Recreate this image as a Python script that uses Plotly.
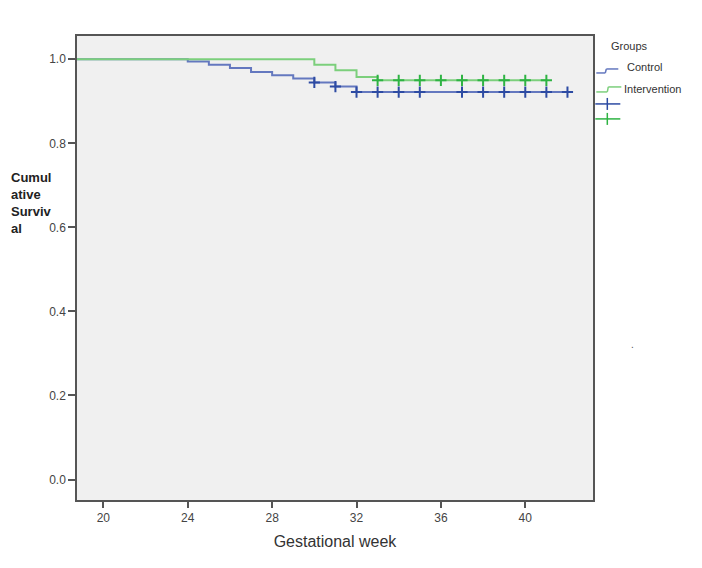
import plotly.graph_objects as go

# ---- data ----
control_times = [0, 24, 25, 26, 27, 28, 29, 30, 31, 32, 42]
control_surv = [1.0, 0.995, 0.987, 0.979, 0.970, 0.962, 0.954, 0.945, 0.935, 0.922, 0.922]
control_censor_weeks = [30, 31, 32, 33, 34, 35, 37, 38, 39, 40, 41, 42]

interv_times = [0, 30, 31, 32, 33, 41]
interv_surv = [1.0, 0.987, 0.974, 0.958, 0.950, 0.950]
interv_censor_weeks = [33, 34, 35, 36, 37, 38, 39, 40, 41]

x_ticks = [20, 24, 28, 32, 36, 40]
y_ticks = [0.0, 0.2, 0.4, 0.6, 0.8, 1.0]
y_tick_labels = ["0.0", "0.2", "0.4", "0.6", "0.8", "1.0"]


def surv_at(times, surv, t):
    s = surv[0]
    for ti, si in zip(times, surv):
        if ti <= t:
            s = si
    return s


BLUE_LINE = "#6478bf"
BLUE_MARK = "#2d4ba3"
GREEN_LINE = "#7ccf7c"
GREEN_MARK = "#2eb343"

fig = go.Figure()
fig.add_trace(go.Scatter(x=control_times, y=control_surv, mode="lines",
                         line=dict(shape="hv", color=BLUE_LINE, width=2),
                         showlegend=False, hoverinfo="skip"))
fig.add_trace(go.Scatter(x=interv_times, y=interv_surv, mode="lines",
                         line=dict(shape="hv", color=GREEN_LINE, width=2),
                         showlegend=False, hoverinfo="skip"))
fig.add_trace(go.Scatter(x=control_censor_weeks,
                         y=[surv_at(control_times, control_surv, t) for t in control_censor_weeks],
                         mode="markers",
                         marker=dict(symbol="cross-thin", size=8, line=dict(color=BLUE_MARK, width=2)),
                         showlegend=False))
fig.add_trace(go.Scatter(x=interv_censor_weeks,
                         y=[surv_at(interv_times, interv_surv, t) for t in interv_censor_weeks],
                         mode="markers",
                         marker=dict(symbol="cross-thin", size=8, line=dict(color=GREEN_MARK, width=2)),
                         showlegend=False))

# page offset (default body margin) and target plot area in window pixels
OFF = 8
L, R, T, B = 77, 592.7, 36, 500.5
W, H = 702 - 2 * OFF, 568 - 2 * OFF
PW, PH = R - L, B - T


def px(x):
    return (x - L) / PW


def py(y):
    return (B - y) / PH


shapes = []
annotations = []

FONT = "Liberation Sans"
# legend
annotations.append(dict(text="Groups", x=px(609), y=py(46), xref="paper", yref="paper",
                        xanchor="left", yanchor="middle", showarrow=False,
                        font=dict(size=11, color="#333", family=FONT)))
for (x0, y0, x1, y1) in [(596, 73, 605, 73), (605, 73, 606, 69), (606, 69, 618, 69)]:
    shapes.append(dict(type="line", xref="paper", yref="paper", x0=px(x0), y0=py(y0),
                       x1=px(x1), y1=py(y1), line=dict(color=BLUE_LINE, width=1.5)))
annotations.append(dict(text="Control", x=px(625), y=py(67), xref="paper", yref="paper",
                        xanchor="left", yanchor="middle", showarrow=False,
                        font=dict(size=11, color="#333", family=FONT)))
for (x0, y0, x1, y1) in [(596, 92, 607, 92), (607, 92, 608, 87), (608, 87, 621, 87)]:
    shapes.append(dict(type="line", xref="paper", yref="paper", x0=px(x0), y0=py(y0),
                       x1=px(x1), y1=py(y1), line=dict(color=GREEN_LINE, width=1.5)))
annotations.append(dict(text="Intervention", x=px(622), y=py(89), xref="paper", yref="paper",
                        xanchor="left", yanchor="middle", showarrow=False,
                        font=dict(size=11, color="#333", family=FONT)))
for yc, col in [(104, BLUE_MARK), (119, GREEN_MARK)]:
    shapes.append(dict(type="line", xref="paper", yref="paper", x0=px(595), y0=py(yc),
                       x1=px(620), y1=py(yc), line=dict(color=col, width=1.5)))
    shapes.append(dict(type="line", xref="paper", yref="paper", x0=px(607), y0=py(yc - 6),
                       x1=px(607), y1=py(yc + 6), line=dict(color=col, width=1.5)))

# y axis title (wrapped, as in the original)
annotations.append(dict(text="<b>Cumul<br>ative<br>Surviv<br>al</b>", x=px(OFF + 1), y=py(203),
                        xref="paper", yref="paper", xanchor="left", yanchor="middle",
                        align="left", showarrow=False,
                        font=dict(size=13, color="#222", family=FONT)))
annotations.append(dict(text=".", x=px(632), y=py(345), xref="paper", yref="paper",
                        xanchor="center", yanchor="middle", showarrow=False,
                        font=dict(size=10, color="#555", family=FONT)))

fig.update_layout(
    width=W, height=H,
    margin=dict(l=L - OFF, r=W - (R - OFF), t=T - OFF, b=H - (B - OFF), pad=0),
    paper_bgcolor="white",
    plot_bgcolor="#f0f0f0",
    font=dict(family=FONT, color="#444"),
    shapes=shapes,
    annotations=annotations,
    showlegend=False,
    xaxis=dict(range=[18.75, 43.21], tickvals=x_ticks, ticktext=[str(v) for v in x_ticks],
               showgrid=False, zeroline=False, showline=True, mirror=True,
               linecolor="#555", linewidth=1.5, ticks="outside", ticklen=6,
               tickcolor="#555", tickwidth=1.5, tickfont=dict(size=12, color="#444"),
               title=dict(text="Gestational week", font=dict(size=16, color="#333"), standoff=12)),
    yaxis=dict(range=[-0.0487, 1.0554], tickvals=y_ticks, ticktext=y_tick_labels,
               showgrid=False, zeroline=False, showline=True, mirror=True,
               linecolor="#555", linewidth=1.5, ticks="outside", ticklen=7,
               tickcolor="#555", tickwidth=1.5, tickfont=dict(size=12, color="#444")),
)

fig.write_html("out.html")
